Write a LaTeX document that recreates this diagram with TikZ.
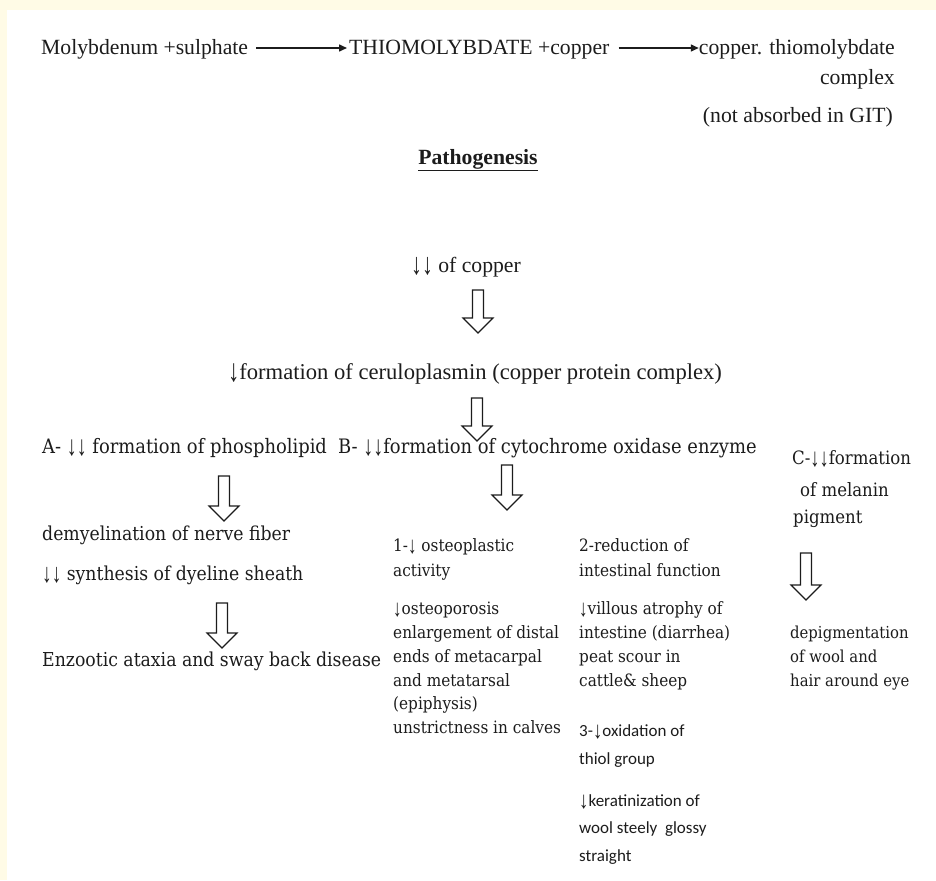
\documentclass[tikz,border=0pt]{standalone}
\usepackage{fontspec}
\setmainfont{Liberation Serif}
\newfontfamily\camfont{DejaVu Serif Condensed}
\newfontfamily\calfont{Carlito}
\newfontfamily\arrfont{Liberation Serif}
\newfontfamily\arrsans{Liberation Sans}
\usetikzlibrary{arrows.meta}
\definecolor{cream}{HTML}{FFFBE6}
\definecolor{ink}{HTML}{1C1C1C}
\newcommand{\dn}{\raisebox{-0.12em}{\scalebox{1}[1.4]{\arrfont\symbol{"2193}}}}
\newcommand{\dns}{\raisebox{-0.12em}{\scalebox{1.1}[1.4]{\arrsans\symbol{"2193}}}}
\newcommand{\barrow}[3]{%
  \draw[blockarr] (#1-5.5,#2) -- (#1+5.5,#2) -- (#1+5.5,#3-15) -- (#1+15,#3-15)
    -- (#1,#3) -- (#1-15,#3-15) -- (#1-5.5,#3-15) -- cycle;}
\begin{document}
\begin{tikzpicture}[x=1pt,y=-1pt,
  every node/.style={inner sep=0pt, text=ink},
  tnr/.style={font=\fontsize{21.7}{25}\selectfont},
  big/.style={font=\camfont\fontsize{19.2}{24}\selectfont, anchor=base west},
  cmb/.style={font=\camfont\fontsize{17}{24}\selectfont, anchor=base west},
  clb/.style={font=\calfont\fontsize{17}{28}\selectfont, anchor=base west},
  flow/.style={draw=ink, line width=1.5pt, -{Triangle[length=8pt,width=7pt]}},
  blockarr/.style={draw=ink, fill=white, line width=1.1pt, line join=miter}]
\fill[cream] (0,0) rectangle (936,880);
\fill[white] (7,10) rectangle (936,880);
\useasboundingbox (0,0) rectangle (936,880);

% top reaction line
\coordinate (ay) at (0,48);
\node[tnr, anchor=base west] (mo) at (41,55) {Molybdenum +sulphate};
\node[tnr, anchor=base west] (th) at (349,55) {THIOMOLYBDATE +copper};
\node[tnr, anchor=base east] (cu) at (895,55) {copper. thiomolybdate};
\node[tnr, anchor=base east] (cx) at (895,85) {complex};
\node[tnr, anchor=base east] (na) at (893,123) {(not absorbed in GIT)};
\draw[flow, shorten <=8pt, shorten >=2pt] (mo.east |- ay) -- (th.west |- ay);
\draw[flow, shorten <=9pt, shorten >=0pt] (th.east |- ay) -- (cu.west |- ay);

\node[tnr, anchor=base] (pg) at (478,164) {\bfseries\underline{Pathogenesis}};
\node[tnr, anchor=base] (dc) at (466,272) {\dn\dn{} of copper};
\node[font=\fontsize{22.6}{26}\selectfont, anchor=base] (ce) at (475,379) {\dn formation of ceruloplasmin (copper protein complex)};

% main branches
\node[big, font=\camfont\fontsize{19.9}{24}\selectfont] (fa) at (42,453) {A- \dn\dn{} formation of phospholipid};
\node[big, font=\camfont\fontsize{19.9}{24}\selectfont] (fb) at (338,453) {B- \dn\dn formation of cytochrome oxidase enzyme};
\node[cmb, font=\camfont\fontsize{18.4}{24}\selectfont] (fc1) at (792,464) {C-\dn\dn formation};
\node[cmb, font=\camfont\fontsize{18.4}{24}\selectfont] (fc2) at (800,496) {of melanin};
\node[cmb, font=\camfont\fontsize{18.4}{24}\selectfont] (fc3) at (793,523) {pigment};

% branch A
\node[big] (a1) at (42,540) {demyelination of nerve fiber};
\node[big] (a2) at (42,580) {\dn\dn{} synthesis of dyeline sheath};
\node[big] (a3) at (42,666) {Enzootic ataxia and sway back disease};

% branch B column 1
\node[cmb] (b11) at (393,551) {1-\dn{} osteoplastic};
\node[cmb] (b12) at (393,576) {activity};
\node[cmb] (b13) at (393,614) {\dn osteoporosis};
\node[cmb] (b14) at (393,638) {enlargement of distal};
\node[cmb] (b15) at (393,662) {ends of metacarpal};
\node[cmb] (b16) at (393,686) {and metatarsal};
\node[cmb] (b17) at (393,709) {(epiphysis)};
\node[cmb] (b18) at (393,733) {unstrictness in calves};

% branch B column 2
\node[cmb] (b21) at (579,551) {2-reduction of};
\node[cmb] (b22) at (579,576) {intestinal function};
\node[cmb] (b23) at (579,614) {\dn villous atrophy of};
\node[cmb] (b24) at (579,638) {intestine (diarrhea)};
\node[cmb] (b25) at (579,662) {peat scour in};
\node[cmb] (b26) at (579,686) {cattle\& sheep};
\node[clb] (b31) at (579,736) {3-\dns oxidation of};
\node[clb] (b32) at (579,764) {thiol group};
\node[clb] (b33) at (579,806) {\dns keratinization of};
\node[clb] (b34) at (579,833) {wool steely\ \ glossy};
\node[clb] (b35) at (579,861) {straight};

% branch C
\node[cmb, font=\camfont\fontsize{16.5}{24}\selectfont] (c1) at (790,638) {depigmentation};
\node[cmb, font=\camfont\fontsize{16.5}{24}\selectfont] (c2) at (790,662) {of wool and};
\node[cmb, font=\camfont\fontsize{16.5}{24}\selectfont] (c3) at (790,686) {hair around eye};

% block arrows
\barrow{478}{290}{333}
\barrow{477}{398}{441}
\barrow{224}{476}{521}
\barrow{507}{465}{510}
\barrow{806}{553}{600}
\barrow{222}{603}{648}
\end{tikzpicture}
\end{document}
